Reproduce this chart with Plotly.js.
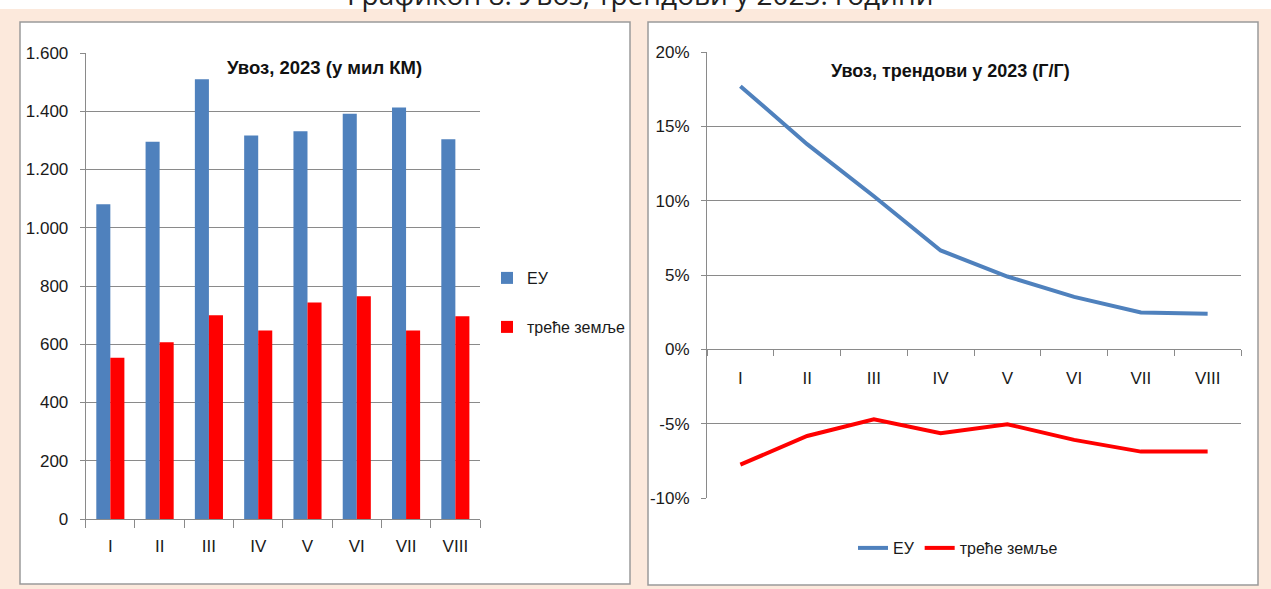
<!DOCTYPE html>
<html>
<head>
<meta charset="utf-8">
<script src="https://cdn.plot.ly/plotly-3.0.1.min.js"></script>
<style>html,body{margin:0;padding:0;background:#fff;}#chart{width:1271px;height:589px;}</style>
</head>
<body>
<div id="chart"></div>
<script>
// ---- data ----
const months = ['I','II','III','IV','V','VI','VII','VIII'];
const importEU = [1081, 1295, 1510, 1317, 1331, 1391, 1413, 1304];
const importThird = [554, 607, 700, 647, 743, 765, 647, 696];
const trendEU = [17.7, 13.8, 10.3, 6.65, 4.9, 3.53, 2.48, 2.39];
const trendThird = [-7.75, -5.83, -4.71, -5.65, -5.04, -6.09, -6.88, -6.88];
const seriesNames = ['ЕУ', 'треће земље'];
const pctTickVals = [-10, -5, 0, 5, 10, 15, 20];
const pctTickText = ['-10%', '-5%', '0%', '5%', '10%', '15%', '20%'];
const mainTitle = 'Графикон 8: Увоз, трендови у 2023. години';
const leftTitle = 'Увоз, 2023 (у мил КМ)';
const rightTitle = 'Увоз, трендови у 2023 (Г/Г)';

const W = 1271, H = 589;
const px = v => v / W;
const py = v => 1 - v / H;

const BLUE = '#4f81bd', RED = '#ff0000', GRID = '#8a8a8a';
const FONT = '"Liberation Sans", Arial, sans-serif';

const traces = [
  {type: 'bar', x: months, y: importEU, name: seriesNames[0], marker: {color: BLUE},
   xaxis: 'x', yaxis: 'y', legend: 'legend', showlegend: true},
  {type: 'bar', x: months, y: importThird, name: seriesNames[1], marker: {color: RED},
   xaxis: 'x', yaxis: 'y', legend: 'legend2', showlegend: true},
  {type: 'scatter', mode: 'lines', x: months, y: trendEU, name: seriesNames[0],
   line: {color: BLUE, width: 4}, xaxis: 'x2', yaxis: 'y2', legend: 'legend3', showlegend: true},
  {type: 'scatter', mode: 'lines', x: months, y: trendThird, name: seriesNames[1],
   line: {color: RED, width: 4}, xaxis: 'x2', yaxis: 'y2', legend: 'legend3', showlegend: true}
];

const tickFont = {family: FONT, size: 17, color: '#1a1a1a'};
const legFont = {family: FONT, size: 16, color: '#1a1a1a'};

const layout = {
  width: W, height: H,
  margin: {l: 0, r: 0, t: 0, b: 0},
  paper_bgcolor: '#fce9dc',
  plot_bgcolor: 'rgba(0,0,0,0)',
  separators: ',.',
  showlegend: true,
  barmode: 'group',
  bargap: 0.43,
  bargroupgap: 0,
  font: {family: FONT},
  xaxis: {domain: [px(85.7), px(480)], anchor: 'y', type: 'category', range: [-0.5, 7.5],
    showline: true, linecolor: GRID, linewidth: 1, ticks: 'outside', ticklen: 8, tickcolor: GRID,
    tickson: 'boundaries', showgrid: false, tickfont: tickFont, ticklabelstandoff: 12},
  yaxis: {domain: [py(519), py(53)], anchor: 'x', range: [0, 1600], tickvals: [0,200,400,600,800,1000,1200,1400,1600],
    tickformat: ',', showline: true, linecolor: GRID, ticks: 'outside', ticklen: 5, tickcolor: GRID,
    showgrid: true, gridcolor: GRID, gridwidth: 1, zeroline: false, tickfont: tickFont, ticklabelstandoff: 8},
  xaxis2: {domain: [px(707), px(1241)], anchor: 'free', position: py(349), type: 'category', range: [-0.5, 7.5],
    showline: true, linecolor: GRID, linewidth: 1, ticks: 'outside', ticklen: 6, tickcolor: GRID,
    tickson: 'boundaries', showgrid: false, tickfont: tickFont, ticklabelstandoff: 14},
  yaxis2: {domain: [py(498), py(52)], anchor: 'x2', range: [-10, 20], tickvals: pctTickVals, ticktext: pctTickText,
    showline: true, linecolor: GRID, ticks: 'outside', ticklen: 5, tickcolor: GRID,
    showgrid: true, gridcolor: GRID, zeroline: false, tickfont: tickFont, ticklabelstandoff: 8},
  legend: {x: px(487), xanchor: 'left', y: py(278), yanchor: 'middle', bgcolor: 'rgba(0,0,0,0)', font: legFont, itemwidth: 30},
  legend2: {x: px(487), xanchor: 'left', y: py(327), yanchor: 'middle', bgcolor: 'rgba(0,0,0,0)', font: legFont, itemwidth: 30},
  legend3: {orientation: 'h', x: px(958), xanchor: 'center', y: py(548), yanchor: 'middle',
    bgcolor: 'rgba(0,0,0,0)', font: legFont},
  shapes: [
    {type: 'rect', xref: 'paper', yref: 'paper', x0: 0, x1: 1, y0: py(9), y1: 1, fillcolor: '#ffffff', line: {width: 0}, layer: 'below'},
    {type: 'rect', xref: 'paper', yref: 'paper', x0: px(20), x1: px(630), y0: py(584), y1: py(22), fillcolor: '#ffffff', line: {color: '#9a9a9a', width: 1.5}, layer: 'below'},
    {type: 'rect', xref: 'paper', yref: 'paper', x0: px(648), x1: px(1258), y0: py(585), y1: py(22), fillcolor: '#ffffff', line: {color: '#9a9a9a', width: 1.5}, layer: 'below'}
  ],
  annotations: [
    {text: mainTitle, xref: 'paper', yref: 'paper', x: px(640), y: py(15), xanchor: 'center', yanchor: 'bottom',
     showarrow: false, font: {family: '"Open Sans", "DejaVu Sans", sans-serif', size: 28, color: '#222'}},
    {text: '<b>' + leftTitle + '</b>', xref: 'paper', yref: 'paper', x: px(324), y: py(68), xanchor: 'center', yanchor: 'middle',
     showarrow: false, font: {family: FONT, size: 18.5, color: '#111'}},
    {text: '<b>' + rightTitle + '</b>', xref: 'paper', yref: 'paper', x: px(950), y: py(71), xanchor: 'center', yanchor: 'middle',
     showarrow: false, font: {family: FONT, size: 18, color: '#111'}}
  ]
};

Plotly.newPlot('chart', traces, layout, {displayModeBar: false, staticPlot: true});
</script>
</body>
</html>
